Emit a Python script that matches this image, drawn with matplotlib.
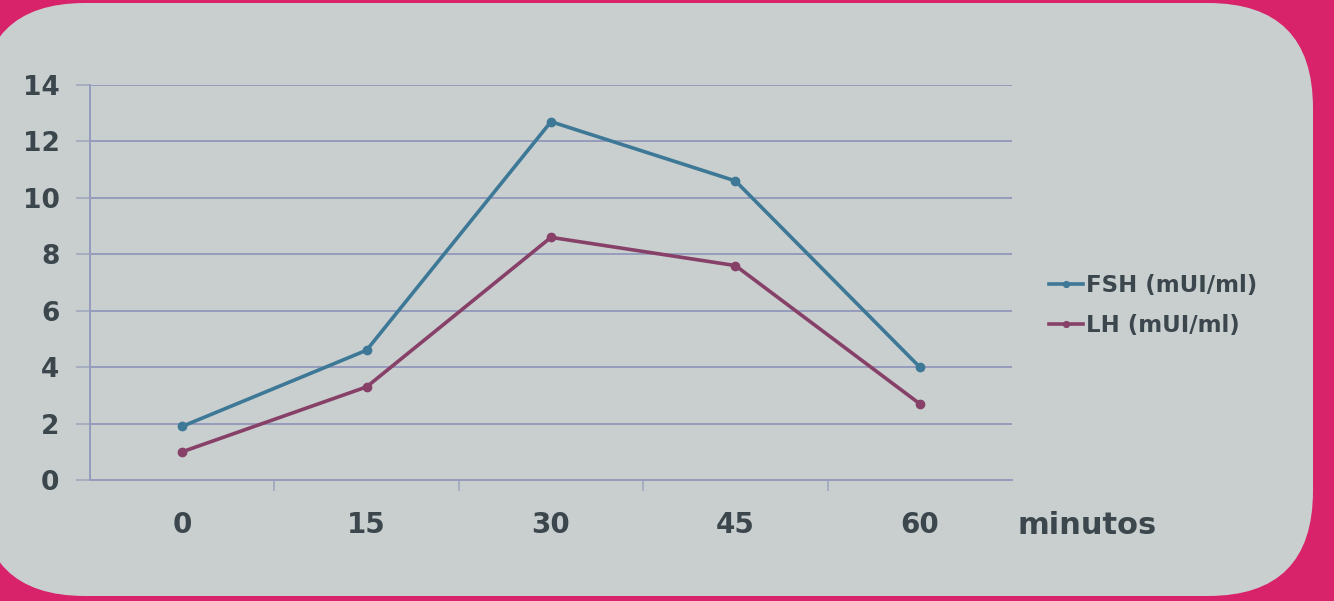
import matplotlib
matplotlib.use("Agg")
import matplotlib.pyplot as plt
from matplotlib.patches import FancyBboxPatch
from matplotlib.ticker import FixedLocator

categories = ["0", "15", "30", "45", "60"]
fsh = [1.9, 4.6, 12.7, 10.6, 4.0]
lh = [1.0, 3.3, 8.6, 7.6, 2.7]
yticks = [0, 2, 4, 6, 8, 10, 12, 14]

plt.rcParams['font.family'] = ['DejaVu Sans']

W, H = 1334, 601
fig = plt.figure(figsize=(W / 100, H / 100), dpi=100)
fig.patch.set_facecolor('#d8226a')

# background axes in pixel units for the rounded panel
bg = fig.add_axes([0, 0, 1, 1])
bg.set_xlim(0, W)
bg.set_ylim(H, 0)
bg.axis('off')
bg.set_zorder(-10)
bg.add_patch(FancyBboxPatch((-20, 3), 1333, 593,
                            boxstyle="round,pad=0,rounding_size=105",
                            facecolor='#c9cfcf', edgecolor='none'))

ax = fig.add_axes([90 / W, 1 - 480 / H, 922 / W, 395 / H])
ax.set_facecolor('none')
ax.set_zorder(2)
x = list(range(len(categories)))
txt = '#3b474d'
ax.plot(x, fsh, color='#3d7897', lw=2.6, marker='o', ms=6, label='FSH (mUI/ml)', zorder=3)
ax.plot(x, lh, color='#874068', lw=2.6, marker='o', ms=6, label='LH (mUI/ml)', zorder=3)

ax.set_xlim(-0.5, 4.5)
ax.set_ylim(0, 14)
ax.set_yticks(yticks)
ax.set_yticklabels([str(v) for v in yticks], fontsize=19, fontweight='bold', color=txt)
ax.set_xticks(x)
ax.set_xticklabels(categories, fontsize=20, fontweight='bold', color=txt)
ax.xaxis.set_minor_locator(FixedLocator([0.5, 1.5, 2.5, 3.5]))
ax.tick_params(axis='x', which='major', length=0, pad=22)
ax.tick_params(axis='x', which='minor', length=8, color='#a0a8bc', width=1.2)
ax.tick_params(axis='y', length=10, color='#a0a8bc', width=1.2, pad=12)
ax.grid(axis='y', color='#959cbc', lw=1.4, zorder=1)
for s in ['top', 'right']:
    ax.spines[s].set_visible(False)
ax.spines['left'].set_color('#959cbc')
ax.spines['bottom'].set_color('#959cbc')
ax.spines['left'].set_linewidth(1.4)
ax.spines['bottom'].set_linewidth(1.4)

fig.text(1018 / W, 1 - 525 / H, 'minutos', fontsize=22, fontweight='bold',
         color=txt, va='center', ha='left')

leg = fig.legend(loc='upper left', bbox_to_anchor=(1028 / W, 1 - 253 / H),
                 frameon=False, fontsize=16.5, handlelength=1.5, handletextpad=0.15,
                 labelspacing=0.75, markerscale=0.7)
for t in leg.get_texts():
    t.set_color(txt)
    t.set_fontweight('bold')

fig.savefig('out.png', dpi=100, facecolor=fig.get_facecolor())
